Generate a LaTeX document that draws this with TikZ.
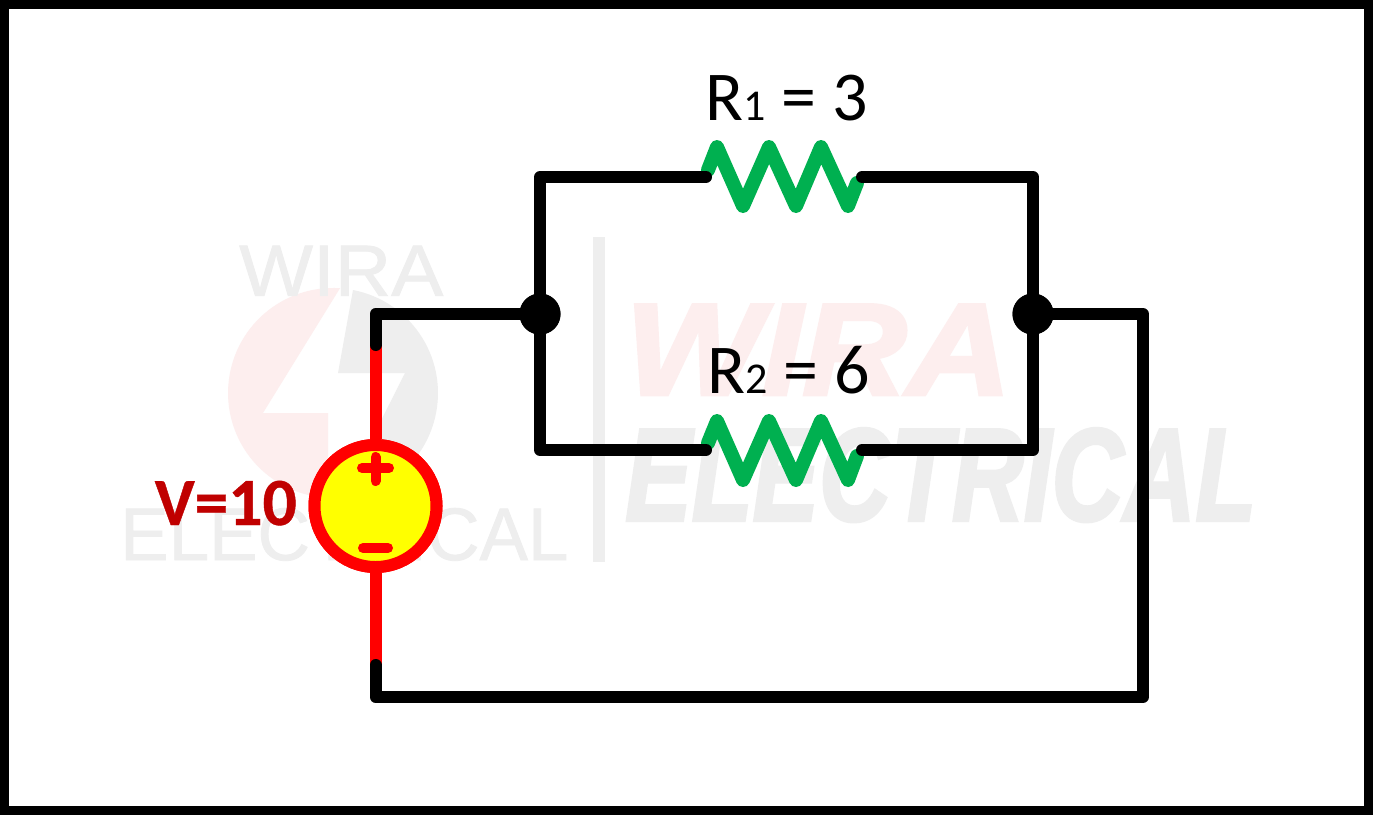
\documentclass[tikz,border=0pt]{standalone}
\usepackage{graphicx}
\usepackage{fontspec}
\setmainfont{Carlito}
\newfontfamily\wmfont{Liberation Sans}[FakeBold=1]
\newfontfamily\wmheavy{Liberation Sans}[UprightFont=* Bold Italic,FakeBold=2.5]
\newfontfamily\labelbold{Carlito}[UprightFont=* Bold,FakeBold=0.6]
\definecolor{wmgray}{HTML}{EEEEEE}
\definecolor{wmpink}{HTML}{FDEEEE}
\definecolor{resgreen}{HTML}{00B050}
\definecolor{srcred}{HTML}{FF0000}
\definecolor{labelred}{HTML}{C00000}
\definecolor{srcyellow}{HTML}{FFFF00}
\newcommand{\fitbox}[3]{\resizebox{#1pt}{#2pt}{#3}}
\tikzset{
  wire/.style={line width=12pt,line cap=round,line join=round,black},
  redwire/.style={line width=12pt,line cap=butt,srcred},
  zigzag/.style={line width=14pt,line cap=round,line join=round,resgreen},
  junction/.style={circle,fill=black,draw=none,minimum size=41pt,inner sep=0pt},
  source/.style={circle,fill=srcyellow,draw=srcred,line width=12pt,minimum size=122pt,inner sep=0pt},
  signmark/.style={line width=10pt,line cap=round,srcred},
  reslabel/.style={inner sep=0pt,font=\fontsize{70}{70}\selectfont,black,anchor=base},
  wm/.style={inner sep=0pt,anchor=south west},
}
\begin{document}
\begin{tikzpicture}[x=1pt,y=-1pt]
\useasboundingbox (0,0) rectangle (1373,815);
\fill[white] (0,0) rectangle (1373,815);
% watermark
\fill[wmpink] (340,288.2) arc[start angle=-86.2,end angle=-267.3,radius=105] -- (328,413) -- (263,413) -- cycle;
\fill[wmgray] (353,290) arc[start angle=-79,end angle=85,radius=105] -- (405,373) -- (338,373) -- cycle;
\node[wm,text=wmgray] (wmA) at (239,296) {\fitbox{204}{50}{\wmfont WIRA}};
\node[wm,text=wmgray] (wmB) at (120,561) {\fitbox{448}{52}{\wmfont ELECTRICAL}};
\fill[wmgray] (593,237) rectangle (605,562);
\node[wm,text=wmpink] (wmC) at (625,395) {\fitbox{386}{90}{\wmheavy WIRA}};
\node[wm,text=wmgray] (wmD) at (625,522) {\fitbox{631}{92}{\wmheavy ELECTRICAL}};
% coordinates
\coordinate (cTL) at (375.5,314);
\coordinate (cBL) at (375.5,697);
\coordinate (cBR) at (1143,697);
\coordinate (cTR) at (1143,314);
\coordinate (cA) at (375.5,345);
\coordinate (cB) at (375.5,665);
\coordinate (r1a) at (540,177);
\coordinate (r1b) at (706,177);
\coordinate (r1c) at (862,177);
\coordinate (r1d) at (1033,177);
\coordinate (r2a) at (540,450);
\coordinate (r2b) at (706,450);
\coordinate (r2c) at (862,450);
\coordinate (r2d) at (1033,450);
\node[junction] (j1) at (540,314) {};
\node[junction] (j2) at (1033,314) {};
\node[source] (src) at (375.5,506) {};
% resistors
\draw[zigzag] (708,170) -- (717,147) -- (743,206) -- (769,147) -- (796,206) -- (821,147) -- (848,206) -- (857,183);
\draw[zigzag] (708,443) -- (717,421) -- (743,480) -- (769,421) -- (796,480) -- (821,421) -- (848,480) -- (857,456);
% wires
\draw[redwire] (cA) -- (src.north);
\draw[redwire] (src.south) -- (cB);
\draw[wire] (cA) -- (cTL) -- (j1.center);
\draw[wire] (r1b) -- (r1a) -- (j1.center) -- (r2a) -- (r2b);
\draw[wire] (r1c) -- (r1d) -- (j2.center) -- (r2d) -- (r2c);
\draw[wire] (j2.center) -- (cTR) -- (cBR) -- (cBL) -- (cB);
\node[junction] at (j1.center) {};
\node[junction] at (j2.center) {};
\node[source] at (src.center) {};
% signs
\draw[signmark] (362,468) -- (389,468);
\draw[signmark] (375.5,457) -- (375.5,481);
\draw[signmark] (363,548) -- (388,548);
% frame
\draw[line width=9pt,black] (4.5,4.5) rectangle (1368.5,810.5);
% labels
\node[reslabel] (lab1) at (786.5,120) {R{\fontsize{44}{44}\selectfont 1} = 3};
\node[reslabel] (lab2) at (789,393) {R{\fontsize{44}{44}\selectfont 2} = 6};
\node[inner sep=0pt,anchor=base east,font=\fontsize{67.5}{67.5}\selectfont\labelbold,text=labelred] (lab3) at (297,525) {V=10};
\end{tikzpicture}
\end{document}
